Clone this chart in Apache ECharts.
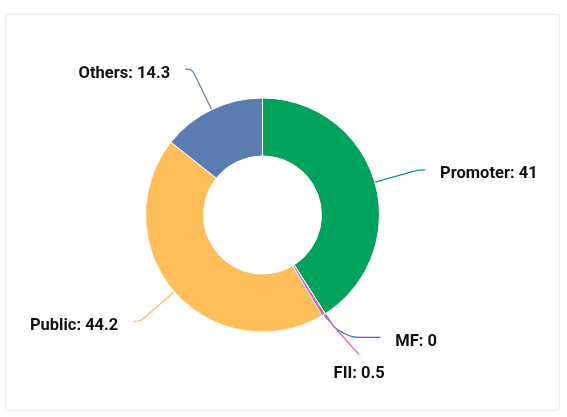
<!DOCTYPE html>
<html>
<head>
<meta charset="utf-8">
<script src="https://cdn.jsdelivr.net/npm/echarts@6/dist/echarts.min.js"></script>
<style>
html,body{margin:0;padding:0;background:#fff;width:567px;height:417px;overflow:hidden;}
#card{position:absolute;left:5px;top:14px;width:553px;height:395px;border:1px solid #ececec;border-radius:4px;box-shadow:0 0 2px rgba(0,0,0,0.05);background:#fff;}
#chart{position:absolute;left:0;top:0;width:567px;height:417px;}
</style>
</head>
<body>
<div id="card"></div>
<div id="chart"></div>
<script>
const categories = ['Promoter', 'MF', 'FII', 'Public', 'Others'];
const values = [41, 0, 0.5, 44.2, 14.3];
const colors = ['#00a35b', '#2a6fdb', '#e95aa8', '#ffbe5a', '#5a7db1'];
// label connector lengths per slice [radial, horizontal]
const connector = [[45, 7], [28, 40], [65, 0], [45, 7], [45, 7]];

const chart = echarts.init(document.getElementById('chart'));
chart.setOption({
  animation: false,
  series: [{
    type: 'pie',
    center: [262.5, 215],
    radius: [59, 117],
    startAngle: 90,
    clockwise: true,
    avoidLabelOverlap: false,
    itemStyle: { borderColor: '#fff', borderWidth: 1 },
    label: {
      show: true,
      formatter: '{s|}\n{t|{b}: {c}}',
      rich: {
        s: { height: 9, lineHeight: 9, fontSize: 1 },
        t: { fontFamily: 'Roboto', fontWeight: 'bold', fontSize: 16.5, lineHeight: 20, color: '#111' }
      },
      distanceToLabelLine: 15
    },
    labelLine: {
      show: true,
      smooth: 0.4,
      lineStyle: { width: 1.2 }
    },
    labelLayout: function (p) {
      return p.dataIndex === 2 ? { x: p.labelRect.x - 39, y: p.labelRect.y + p.labelRect.height / 2 } : {};
    },
    emphasis: { disabled: true },
    data: categories.map((c, i) => ({
      name: c,
      value: values[i],
      itemStyle: { color: colors[i] },
      labelLine: { length: connector[i][0], length2: connector[i][1] }
    }))
  }]
});
</script>
</body>
</html>
